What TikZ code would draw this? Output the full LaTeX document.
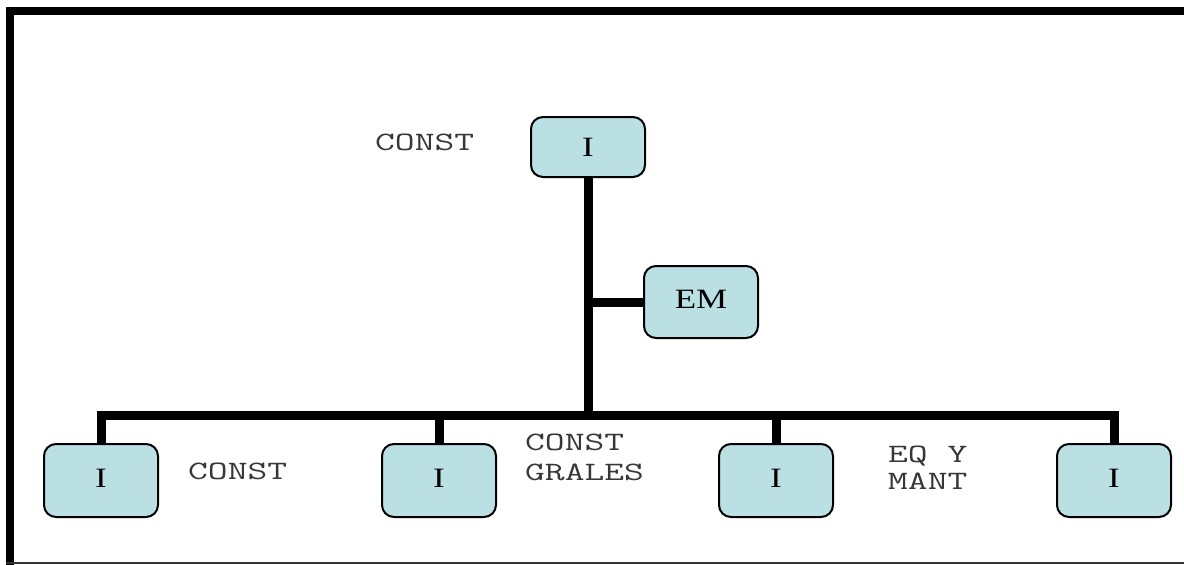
\documentclass[tikz,border=0pt]{standalone}
\usepackage{fontspec}
\setmainfont{Liberation Serif}
\usetikzlibrary{positioning}
\definecolor{boxfill}{RGB}{186,224,228}
\definecolor{txtgray}{RGB}{55,55,55}
\newcommand{\wide}[1]{\scalebox{1.25}[1]{#1}}
\newcommand{\wider}[1]{\scalebox{1.45}[1]{#1}}
\tikzset{
  unitbox/.style={draw=black, line width=2pt, fill=boxfill, rounded corners=12pt,
    minimum width=114pt, minimum height=60pt, inner sep=0pt,
    font=\fontsize{28}{30}\selectfont},
  lowbox/.style={unitbox, minimum height=73pt},
  link/.style={line width=9pt, black, line join=miter},
  lbl/.style={inner sep=0pt, anchor=base west, text=txtgray, align=left,
    font=\ttfamily\fontsize{26.5}{30}\selectfont},
}
\begin{document}
\begin{tikzpicture}[x=1pt,y=-1pt]
\useasboundingbox (0,0) rectangle (1184,565);
% frame
\draw[line width=8pt] (10,565) -- (10,11) -- (1184,11);
\draw[line width=1.5pt, black!80] (6,563) -- (1184,563);
% boxes
\node[unitbox] (top) at (588,147) {\raisebox{-2pt}{\wide{I}}};
\node[unitbox, minimum height=72pt] (em) at (701,302) {\raisebox{5pt}{\wide{EM}}};
\node[lowbox] (b1) at (101,480.5) {\raisebox{5pt}{\wide{I}}};
\node[lowbox] (b2) at (439,480.5) {\raisebox{5pt}{\wide{I}}};
\node[lowbox] (b3) at (776,480.5) {\raisebox{5pt}{\wide{I}}};
\node[lowbox] (b4) at (1114,480.5) {\raisebox{5pt}{\wide{I}}};
\coordinate (bar) at (588,415);
% connectors
\draw[link] (top.south) -- (bar);
\draw[link] (b1.north) -- (b1.north |- bar) -- (b4.north |- bar) -- (b4.north);
\draw[link] (b2.north) -- (b2.north |- bar);
\draw[link] (b3.north) -- (b3.north |- bar);
\draw[link] (em.west) -- (em.west -| top.south);
% labels
\node[lbl] (l0) at (375,150) {\wider{CONST}};
\node[lbl] (l1) at (188,479) {\wider{CONST}};
\node[lbl] (l2) at (525,480) {\wider{CONST}\\\wider{GRALES}};
\node[lbl] (l3) at (888,489) {\wider{EQ Y}\\[-3pt]\wider{MANT}};
\end{tikzpicture}
\end{document}
